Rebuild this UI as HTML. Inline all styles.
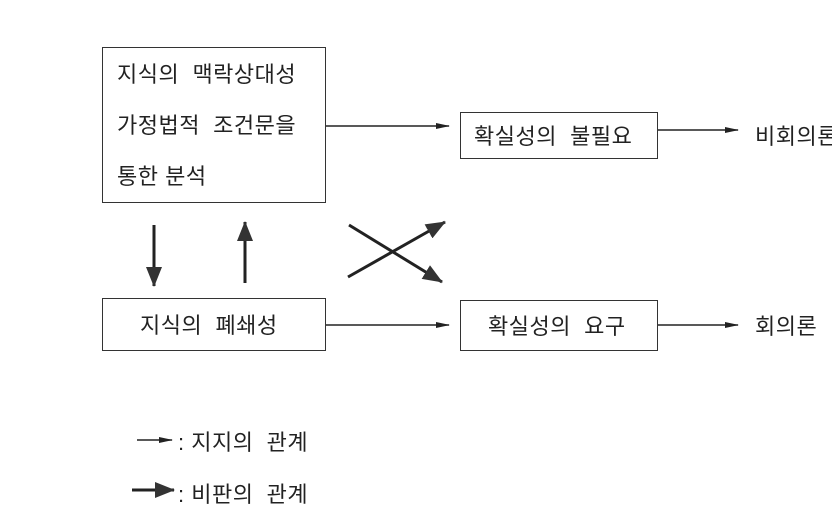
<!DOCTYPE html>
<html><head><meta charset="utf-8"><style>
body{margin:0;width:832px;height:523px;background:#fff;overflow:hidden;position:relative;font-family:"Liberation Sans","Noto Sans CJK KR",sans-serif;color:#222}
.b{position:absolute;border:1.5px solid #333;box-sizing:border-box}
.t{position:absolute;font-size:22px;white-space:nowrap;letter-spacing:0.5px}
</style></head><body>
<div class="b" style="left:102px;top:47px;width:224px;height:156px"></div>
<div class="t" style="left:117px;top:57px">지식의 &nbsp;맥락상대성</div>
<div class="t" style="left:117px;top:108px">가정법적 &nbsp;조건문을</div>
<div class="t" style="left:117px;top:159px">통한 분석</div>
<div class="b" style="left:102px;top:298px;width:224px;height:53px"></div>
<div class="t" style="left:140px;top:308px">지식의 &nbsp;폐쇄성</div>
<div class="b" style="left:460px;top:112px;width:198px;height:47px"></div>
<div class="t" style="left:474px;top:119px">확실성의 &nbsp;불필요</div>
<div class="b" style="left:460px;top:300px;width:198px;height:51px"></div>
<div class="t" style="left:488px;top:309px">확실성의 &nbsp;요구</div>
<div class="t" style="left:755px;top:119px">비회의론</div>
<div class="t" style="left:755px;top:309px">회의론</div>
<div class="t" style="left:178px;top:425px">: 지지의 &nbsp;관계</div>
<div class="t" style="left:178px;top:477px">: 비판의 &nbsp;관계</div>
<svg width="832" height="523" style="position:absolute;left:0;top:0">
<defs>
<marker id="s" markerWidth="14" markerHeight="8" refX="13" refY="4" orient="auto" markerUnits="userSpaceOnUse"><path d="M0,1 L14,4 L0,7 Z" fill="#222"/></marker>
<marker id="k" markerWidth="20" markerHeight="16" refX="19" refY="8" orient="auto" markerUnits="userSpaceOnUse"><path d="M0,0 L20,8 L0,16 Z" fill="#333"/></marker>
</defs>
<g stroke="#222" stroke-width="1.5" fill="none">
<line x1="326" y1="126" x2="449" y2="126" marker-end="url(#s)"/>
<line x1="326" y1="325" x2="449" y2="325" marker-end="url(#s)"/>
<line x1="658" y1="130" x2="738" y2="130" marker-end="url(#s)"/>
<line x1="658" y1="325" x2="738" y2="325" marker-end="url(#s)"/>
<line x1="137" y1="440" x2="172" y2="440" marker-end="url(#s)"/>
</g>
<g stroke="#222" stroke-width="3" fill="none">
<line x1="154" y1="225" x2="154" y2="286" marker-end="url(#k)"/>
<line x1="245" y1="283" x2="245" y2="222" marker-end="url(#k)"/>
<line x1="348" y1="277" x2="445" y2="222" marker-end="url(#k)"/>
<line x1="349" y1="225" x2="442" y2="282" marker-end="url(#k)"/>
<line x1="132" y1="490" x2="174" y2="490" marker-end="url(#k)"/>
</g>
</svg>
</body></html>
